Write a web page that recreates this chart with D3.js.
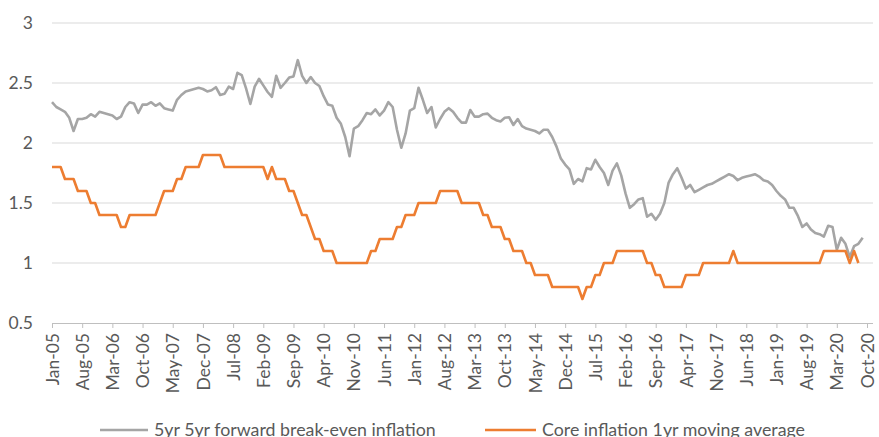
<!DOCTYPE html>
<html lang="en">
<head>
<meta charset="UTF-8">
<title>Break-even vs core inflation</title>
<script src="https://d3js.org/d3.v7.min.js"></script>
<style>
  body { margin: 0; background: #fff; }
  svg { display: block; font-family: Lato, "Liberation Sans", sans-serif; }
  .lbl { fill: #595959; }
</style>
</head>
<body>
<svg id="chart" width="879" height="437"></svg>
<script>
// monthly, Jan-05 onwards
var breakEven = [
  2.34,2.30,2.28,2.26,2.21,2.10,2.20,2.20,2.21,2.24,2.22,2.26,
  2.25,2.24,2.23,2.20,2.22,2.30,2.34,2.33,2.25,2.32,2.32,2.34,
  2.31,2.33,2.29,2.28,2.27,2.36,2.40,2.43,2.44,2.45,2.46,2.45,
  2.43,2.44,2.465,2.40,2.41,2.47,2.45,2.585,2.565,2.455,2.325,2.47,
  2.535,2.48,2.425,2.385,2.56,2.46,2.50,2.545,2.555,2.69,2.56,2.50,
  2.55,2.50,2.475,2.39,2.32,2.31,2.21,2.16,2.05,1.89,2.12,2.14,
  2.19,2.25,2.24,2.28,2.23,2.27,2.34,2.30,2.11,1.96,2.08,2.27,
  2.29,2.46,2.36,2.25,2.30,2.13,2.20,2.26,2.29,2.26,2.21,2.17,
  2.17,2.275,2.22,2.22,2.24,2.245,2.21,2.19,2.18,2.21,2.215,2.15,
  2.20,2.14,2.12,2.11,2.10,2.08,2.11,2.11,2.05,1.97,1.87,1.82,
  1.78,1.66,1.70,1.68,1.79,1.78,1.86,1.80,1.75,1.65,1.77,1.83,
  1.73,1.58,1.46,1.49,1.53,1.54,1.385,1.41,1.36,1.41,1.50,1.67,
  1.74,1.79,1.71,1.62,1.65,1.59,1.61,1.63,1.65,1.66,1.68,1.70,
  1.72,1.74,1.725,1.69,1.71,1.72,1.73,1.74,1.72,1.69,1.68,1.65,
  1.60,1.56,1.53,1.46,1.46,1.39,1.30,1.33,1.28,1.25,1.24,1.22,
  1.31,1.30,1.11,1.21,1.16,1.05,1.14,1.16,1.21
];
var coreInflation = [
  1.8,1.8,1.8,1.7,1.7,1.7,1.6,1.6,1.6,1.5,1.5,1.4,
  1.4,1.4,1.4,1.4,1.3,1.3,1.4,1.4,1.4,1.4,1.4,1.4,
  1.4,1.5,1.6,1.6,1.6,1.7,1.7,1.8,1.8,1.8,1.8,1.9,
  1.9,1.9,1.9,1.9,1.8,1.8,1.8,1.8,1.8,1.8,1.8,1.8,
  1.8,1.8,1.7,1.8,1.7,1.7,1.7,1.6,1.6,1.5,1.4,1.4,
  1.3,1.2,1.2,1.1,1.1,1.1,1.0,1.0,1.0,1.0,1.0,1.0,
  1.0,1.0,1.1,1.1,1.2,1.2,1.2,1.2,1.3,1.3,1.4,1.4,
  1.4,1.5,1.5,1.5,1.5,1.5,1.6,1.6,1.6,1.6,1.6,1.5,
  1.5,1.5,1.5,1.5,1.4,1.4,1.3,1.3,1.3,1.2,1.2,1.1,
  1.1,1.1,1.0,1.0,0.9,0.9,0.9,0.9,0.8,0.8,0.8,0.8,
  0.8,0.8,0.8,0.7,0.8,0.8,0.9,0.9,1.0,1.0,1.0,1.1,
  1.1,1.1,1.1,1.1,1.1,1.1,1.0,1.0,0.9,0.9,0.8,0.8,
  0.8,0.8,0.8,0.9,0.9,0.9,0.9,1.0,1.0,1.0,1.0,1.0,
  1.0,1.0,1.1,1.0,1.0,1.0,1.0,1.0,1.0,1.0,1.0,1.0,
  1.0,1.0,1.0,1.0,1.0,1.0,1.0,1.0,1.0,1.0,1.0,1.1,
  1.1,1.1,1.1,1.1,1.1,1.0,1.1,1.0
];
var tickLabels = [
  "Jan-05","Aug-05","Mar-06","Oct-06","May-07","Dec-07","Jul-08","Feb-09",
  "Sep-09","Apr-10","Nov-10","Jun-11","Jan-12","Aug-12","Mar-13","Oct-13",
  "May-14","Dec-14","Jul-15","Feb-16","Sep-16","Apr-17","Nov-17","Jun-18",
  "Jan-19","Aug-19","Mar-20","Oct-20"
];
var yTicks = [0.5, 1, 1.5, 2, 2.5, 3];
var seriesNames = ["5yr 5yr forward break-even inflation", "Core inflation 1yr moving average"];
var colors = ["#a5a5a5", "#ed7d31"];

var svg = d3.select("#chart");
var plotLeft = 52, plotRight = 873, plotTop = 23, plotBottom = 323;

// months since Jan-05; Oct-20 is month 189
var x = d3.scaleLinear().domain([0, 189]).range([plotLeft, 867]);
var y = d3.scaleLinear().domain([0.5, 3]).range([plotBottom, plotTop]);

// gridlines
svg.append("g").selectAll("line")
  .data(yTicks.filter(d => d > 0.5))
  .join("line")
  .attr("x1", plotLeft).attr("x2", plotRight)
  .attr("y1", d => y(d)).attr("y2", d => y(d))
  .attr("stroke", "#d9d9d9").attr("stroke-width", 1);

// y labels
svg.append("g").selectAll("text")
  .data(yTicks)
  .join("text")
  .attr("class", "lbl")
  .attr("x", 33).attr("y", d => y(d))
  .attr("dy", "0.35em")
  .attr("text-anchor", "end")
  .style("font-size", "17.5px")
  .text(d => d);

// x axis
var xAxis = d3.axisBottom(x)
  .tickValues(tickLabels.map((_, k) => k * 7))
  .tickFormat((d, k) => tickLabels[k])
  .tickSize(5)
  .tickSizeOuter(0);

var gx = svg.append("g")
  .attr("transform", "translate(0," + plotBottom + ")")
  .call(xAxis);
gx.select(".domain").attr("d", "M" + plotLeft + ",0.5H" + plotRight).attr("stroke", "#bfbfbf");
gx.selectAll(".tick line").attr("stroke", "#bfbfbf").attr("y1", 0.5);
gx.selectAll(".tick text")
  .attr("class", "lbl")
  .attr("transform", "translate(0,10) rotate(-90)")
  .attr("x", 0).attr("y", 0)
  .attr("dy", "0.35em")
  .attr("text-anchor", "end")
  .style("font-size", "17.5px")
  .style("font-family", "Lato, sans-serif")
  .style("fill", "#595959");

// lines
var line = d3.line()
  .x((d, i) => x(i))
  .y(d => y(d));

[breakEven, coreInflation].forEach(function(vals, k) {
  svg.append("path")
    .datum(vals)
    .attr("fill", "none")
    .attr("stroke", colors[k])
    .attr("stroke-width", 2.6)
    .attr("stroke-linejoin", "round")
    .attr("d", line);
});

// legend
var legend = [
  { x1: 100, x2: 148, tx: 154 },
  { x1: 485, x2: 536, tx: 542 }
];
legend.forEach(function(l, k) {
  svg.append("line")
    .attr("x1", l.x1).attr("x2", l.x2)
    .attr("y1", 430).attr("y2", 430)
    .attr("stroke", colors[k]).attr("stroke-width", 2.6);
  svg.append("text")
    .attr("class", "lbl")
    .attr("x", l.tx).attr("y", 430)
    .attr("dy", "0.35em")
    .style("font-size", "17.8px")
    .text(seriesNames[k]);
});
</script>
</body>
</html>
